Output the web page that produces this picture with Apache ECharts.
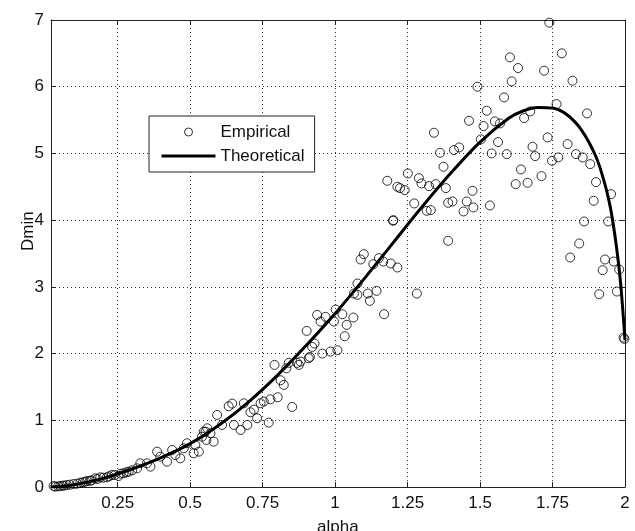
<!DOCTYPE html>
<html>
<head>
<meta charset="utf-8">
<script src="https://cdn.jsdelivr.net/npm/echarts@6/dist/echarts.min.js"></script>
<style>
  html, body { margin: 0; padding: 0; background: #fff; }
  #chart { width: 635px; height: 531px; }
</style>
</head>
<body>
<div id="chart"></div>
<script>
// tick labels on the alpha axis
const alphaTicks = [0.25, 0.5, 0.75, 1, 1.25, 1.5, 1.75, 2];

// empirical points (alpha, Dmin)
const alphaEmp = [
  0.029, 0.035, 0.045, 0.052, 0.06, 0.065, 0.075, 0.085, 0.098, 0.11, 0.121, 0.13, 0.138, 0.145, 0.155, 0.16,
  0.173, 0.18, 0.19, 0.2, 0.213, 0.22, 0.23, 0.24, 0.253, 0.26, 0.27, 0.28, 0.288, 0.3, 0.317, 0.328,
  0.351, 0.363, 0.386, 0.397, 0.42, 0.438, 0.449, 0.466, 0.478, 0.489, 0.512, 0.518, 0.53, 0.541, 0.547, 0.553,
  0.556, 0.559, 0.57, 0.581, 0.593, 0.61, 0.633, 0.645, 0.651, 0.674, 0.685, 0.697, 0.708, 0.72, 0.731, 0.743,
  0.754, 0.771, 0.777, 0.791, 0.802, 0.812, 0.823, 0.832, 0.84, 0.852, 0.869, 0.875, 0.881, 0.902, 0.909, 0.913,
  0.921, 0.929, 0.938, 0.95, 0.956, 0.967, 0.984, 0.996, 1.002, 1.008, 1.025, 1.033, 1.04, 1.063, 1.065, 1.077,
  1.077, 1.088, 1.099, 1.113, 1.12, 1.132, 1.143, 1.151, 1.166, 1.169, 1.18, 1.192, 1.2, 1.201, 1.215, 1.215,
  1.224, 1.24, 1.251, 1.273, 1.282, 1.289, 1.298, 1.316, 1.324, 1.33, 1.341, 1.347, 1.362, 1.374, 1.382, 1.39,
  1.39, 1.405, 1.41, 1.428, 1.443, 1.454, 1.462, 1.474, 1.477, 1.491, 1.503, 1.512, 1.523, 1.534, 1.54, 1.551,
  1.562, 1.569, 1.583, 1.592, 1.603, 1.609, 1.623, 1.631, 1.641, 1.652, 1.664, 1.673, 1.681, 1.69, 1.712, 1.721,
  1.733, 1.739, 1.748, 1.764, 1.77, 1.782, 1.802, 1.811, 1.819, 1.831, 1.842, 1.854, 1.859, 1.869, 1.88, 1.892,
  1.9, 1.911, 1.923, 1.931, 1.942, 1.952, 1.961, 1.972, 1.98, 1.995, 1.998
];
const dminEmp = [
  0.015, 0.005, 0.01, 0.015, 0.02, 0.02, 0.03, 0.035, 0.045, 0.05, 0.064, 0.07, 0.08, 0.09, 0.094, 0.1,
  0.13, 0.12, 0.145, 0.14, 0.145, 0.16, 0.18, 0.18, 0.165, 0.2, 0.205, 0.22, 0.23, 0.25, 0.28, 0.355,
  0.355, 0.305, 0.53, 0.455, 0.38, 0.555, 0.48, 0.43, 0.58, 0.655, 0.505, 0.63, 0.53, 0.754, 0.83, 0.83,
  0.705, 0.88, 0.805, 0.68, 1.08, 0.93, 1.21, 1.25, 0.93, 0.855, 1.255, 0.93, 1.12, 1.16, 1.03, 1.255,
  1.28, 0.965, 1.315, 1.83, 1.345, 1.6, 1.53, 1.78, 1.86, 1.2, 1.86, 1.83, 1.88, 2.34, 1.93, 1.95,
  2.1, 2.15, 2.58, 2.48, 2.0, 2.55, 2.03, 2.48, 2.66, 2.05, 2.59, 2.26, 2.43, 2.54, 2.9, 3.05,
  2.88, 3.41, 3.49, 2.9, 2.79, 3.34, 2.94, 3.43, 3.38, 2.59, 4.59, 3.35, 3.99, 4.0, 3.29, 4.5,
  4.48, 4.45, 4.7, 4.25, 2.9, 4.63, 4.55, 4.14, 4.51, 4.15, 5.31, 4.54, 5.01, 4.8, 4.48, 3.69,
  4.26, 4.28, 5.05, 5.09, 4.13, 4.28, 5.49, 4.44, 4.19, 6.0, 5.21, 5.41, 5.64, 4.22, 5.0, 5.48,
  5.17, 5.45, 5.84, 4.99, 6.44, 6.08, 4.54, 6.28, 4.76, 5.53, 4.56, 5.63, 5.1, 4.96, 4.66, 6.24,
  5.24, 6.96, 4.89, 5.74, 4.94, 6.5, 5.14, 3.44, 6.09, 4.99, 3.65, 4.94, 3.98, 5.6, 4.84, 4.29,
  4.57, 2.89, 3.25, 3.41, 3.98, 4.39, 3.38, 2.93, 3.26, 2.24, 2.22
];

// theoretical curve (alpha, Dmin)
const alphaTheo = [0.02, 0.1, 0.2, 0.3, 0.4, 0.5, 0.6, 0.7, 0.8, 0.9, 1.0, 1.1, 1.2, 1.3, 1.4, 1.5, 1.6, 1.65, 1.7, 1.75, 1.8, 1.85, 1.9, 1.93, 1.95, 1.97, 1.985, 2.0];
const dminTheo = [0.0, 0.035, 0.13, 0.27, 0.44, 0.65, 0.93, 1.27, 1.67, 2.12, 2.6, 3.12, 3.66, 4.2, 4.71, 5.17, 5.53, 5.64, 5.69, 5.68, 5.58, 5.35, 4.95, 4.55, 4.18, 3.62, 3.05, 2.2];

const empData = alphaEmp.map((a, i) => [a, dminEmp[i]]);
const theoData = alphaTheo.map((a, i) => [a, dminTheo[i]]);

const font = 'Liberation Sans, Arial, sans-serif';
const ink = '#111';

const chart = echarts.init(document.getElementById('chart'), null, { renderer: 'canvas' });

const xBase = {
  type: 'value',
  min: 0.02,
  max: 2,
  axisLine: { show: true, onZero: false, lineStyle: { color: '#222', width: 1 } },
  axisTick: { show: true, inside: true, length: 5, customValues: alphaTicks, lineStyle: { color: '#222' } }
};
const yBase = {
  type: 'value',
  min: 0,
  max: 7,
  interval: 1,
  axisLine: { show: true, onZero: false, lineStyle: { color: '#222', width: 1 } },
  axisTick: { show: true, inside: true, length: 5, lineStyle: { color: '#222' } }
};

chart.setOption({
  animation: false,
  backgroundColor: '#fff',
  grid: { left: 51, right: 10, top: 20, bottom: 44, show: false },
  xAxis: [
    Object.assign({}, xBase, {
      position: 'bottom',
      axisLabel: { show: true, customValues: alphaTicks, margin: 8, color: ink, fontFamily: font, fontSize: 17 },
      splitLine: { show: true, lineStyle: { color: '#333', width: 1, type: [1, 3] } }
    }),
    Object.assign({}, xBase, {
      position: 'top',
      axisLabel: { show: false },
      splitLine: { show: false }
    })
  ],
  yAxis: [
    Object.assign({}, yBase, {
      position: 'left',
      axisLabel: { show: true, margin: 7, color: ink, fontFamily: font, fontSize: 17 },
      splitLine: { show: true, lineStyle: { color: '#333', width: 1, type: [1, 3] } }
    }),
    Object.assign({}, yBase, {
      position: 'right',
      axisLabel: { show: false },
      splitLine: { show: false }
    })
  ],
  legend: {
    orient: 'vertical',
    left: 149,
    top: 116,
    padding: [7, 10, 7, 11],
    itemGap: 6,
    itemWidth: 54,
    itemHeight: 8,
    backgroundColor: '#fff',
    borderColor: '#222',
    borderWidth: 1,
    borderRadius: 0,
    textStyle: { color: ink, fontFamily: font, fontSize: 17, lineHeight: 18 },
    data: [
      { name: 'Empirical', icon: 'circle', itemStyle: { color: 'transparent', borderColor: '#000', borderWidth: 1 } },
      { name: 'Theoretical', itemStyle: { color: 'transparent', borderColor: 'transparent', borderWidth: 0, opacity: 0 }, lineStyle: { color: '#000', width: 3 } }
    ]
  },
  graphic: [
    {
      type: 'text',
      left: 317,
      top: 519,
      style: { text: 'alpha', fill: ink, font: '17px ' + font }
    },
    {
      type: 'text',
      x: 20,
      y: 251,
      rotation: Math.PI / 2,
      style: { text: 'Dmin', fill: ink, font: '17px ' + font, textAlign: 'left', textVerticalAlign: 'top' }
    }
  ],
  series: [
    {
      name: 'Empirical',
      type: 'scatter',
      data: empData,
      symbol: 'circle',
      symbolSize: 9,
      itemStyle: { color: 'transparent', borderColor: '#000', borderWidth: 1 },
      z: 2
    },
    {
      name: 'Theoretical',
      type: 'line',
      data: theoData,
      symbol: 'none',
      smooth: 0.3,
      lineStyle: { color: '#000', width: 3 },
      itemStyle: { color: '#000' },
      z: 3
    }
  ]
});
</script>
</body>
</html>
